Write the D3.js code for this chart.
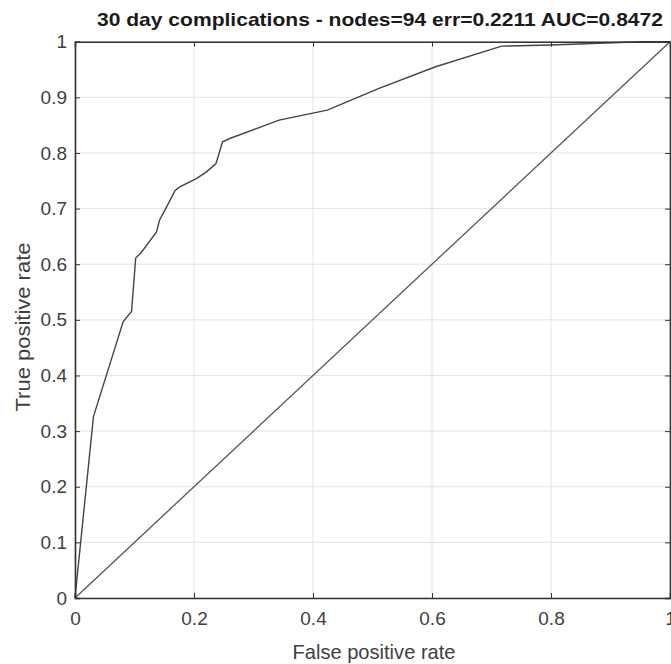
<!DOCTYPE html>
<html>
<head>
<meta charset="utf-8">
<script src="https://cdn.jsdelivr.net/npm/d3@7"></script>
<style>
  html, body { margin: 0; padding: 0; background: #fff; }
  svg { display: block; }
</style>
</head>
<body>
<svg id="chart" width="671" height="664"></svg>
<script>
const titleText = "30 day complications - nodes=94 err=0.2211 AUC=0.8472";
const xLabel = "False positive rate";
const yLabel = "True positive rate";
const xTicks = [0, 0.2, 0.4, 0.6, 0.8, 1];
const yTicks = [0, 0.1, 0.2, 0.3, 0.4, 0.5, 0.6, 0.7, 0.8, 0.9, 1];
const rocFPR = [0, 0.031, 0.081, 0.095, 0.102, 0.112, 0.137, 0.142, 0.154, 0.168, 0.176, 0.204, 0.221, 0.237, 0.248, 0.260, 0.343, 0.424, 0.511, 0.606, 0.717, 0.80, 0.95, 1];
const rocTPR = [0, 0.326, 0.497, 0.515, 0.611, 0.622, 0.658, 0.679, 0.703, 0.732, 0.739, 0.754, 0.766, 0.781, 0.820, 0.826, 0.859, 0.877, 0.916, 0.955, 0.992, 0.994, 1.0, 1];
const diagX = [0, 1];
const diagY = [0, 1];

const svg = d3.select("#chart");
const mLeft = 75, mRight = 670, mTop = 41.7, mBottom = 598;
const x = d3.scaleLinear().domain([0, 1]).range([mLeft, mRight]);
const y = d3.scaleLinear().domain([0, 1]).range([mBottom, mTop]);
const font = "'Liberation Sans', Arial, sans-serif";

// grid
const g = svg.append("g");
g.selectAll("line.vg").data(xTicks).join("line")
  .attr("x1", d => x(d)).attr("x2", d => x(d)).attr("y1", mTop).attr("y2", mBottom)
  .attr("stroke", "#e3e3e3").attr("stroke-width", 1);
g.selectAll("line.hg").data(yTicks).join("line")
  .attr("y1", d => y(d)).attr("y2", d => y(d)).attr("x1", mLeft).attr("x2", mRight)
  .attr("stroke", "#e3e3e3").attr("stroke-width", 1);

// lines
const line = d3.line().x(d => x(d[0])).y(d => y(d[1]));
svg.append("path").datum(diagX.map((v, i) => [v, diagY[i]]))
  .attr("d", line).attr("fill", "none").attr("stroke", "#555").attr("stroke-width", 1.3);
svg.append("path").datum(rocFPR.map((v, i) => [v, rocTPR[i]]))
  .attr("d", line).attr("fill", "none").attr("stroke", "#444").attr("stroke-width", 1.4);

// axes
const xAxis = d3.axisBottom(x).tickValues(xTicks).tickSize(-5).tickPadding(14).tickFormat(d3.format("~g"));
const yAxis = d3.axisLeft(y).tickValues(yTicks).tickSize(-5).tickPadding(8).tickFormat(d3.format("~g"));
const xa = svg.append("g").attr("transform", `translate(0,${mBottom})`).call(xAxis);
const ya = svg.append("g").attr("transform", `translate(${mLeft},0)`).call(yAxis);
const xTopAx = svg.append("g").attr("transform", `translate(0,${mTop})`).call(d3.axisTop(x).tickValues(xTicks).tickSize(-5).tickFormat(""));
const yRightAx = svg.append("g").attr("transform", `translate(${mRight},0)`).call(d3.axisRight(y).tickValues(yTicks).tickSize(-5).tickFormat(""));
[xa, ya, xTopAx, yRightAx].forEach(a => {
  a.select(".domain").attr("stroke", "#333").attr("stroke-width", 1.6);
  a.selectAll(".tick line").attr("stroke", "#333");
  a.selectAll("text").attr("font-family", font).attr("font-size", 19).attr("fill", "#404040");
});

// title and labels
svg.append("text").attr("x", 380).attr("y", 26).attr("text-anchor", "middle")
  .attr("font-family", font).attr("font-weight", "bold").attr("font-size", 19)
  .attr("fill", "#1a1a1a").attr("textLength", 566).attr("lengthAdjust", "spacingAndGlyphs")
  .text(titleText);
svg.append("text").attr("x", 374).attr("y", 659).attr("text-anchor", "middle")
  .attr("font-family", font).attr("font-size", 21).attr("fill", "#404040")
  .attr("textLength", 163).attr("lengthAdjust", "spacingAndGlyphs").text(xLabel);
svg.append("text").attr("transform", "translate(30,327) rotate(-90)").attr("text-anchor", "middle")
  .attr("font-family", font).attr("font-size", 21).attr("fill", "#404040")
  .attr("textLength", 169).attr("lengthAdjust", "spacingAndGlyphs").text(yLabel);
</script>
</body>
</html>
